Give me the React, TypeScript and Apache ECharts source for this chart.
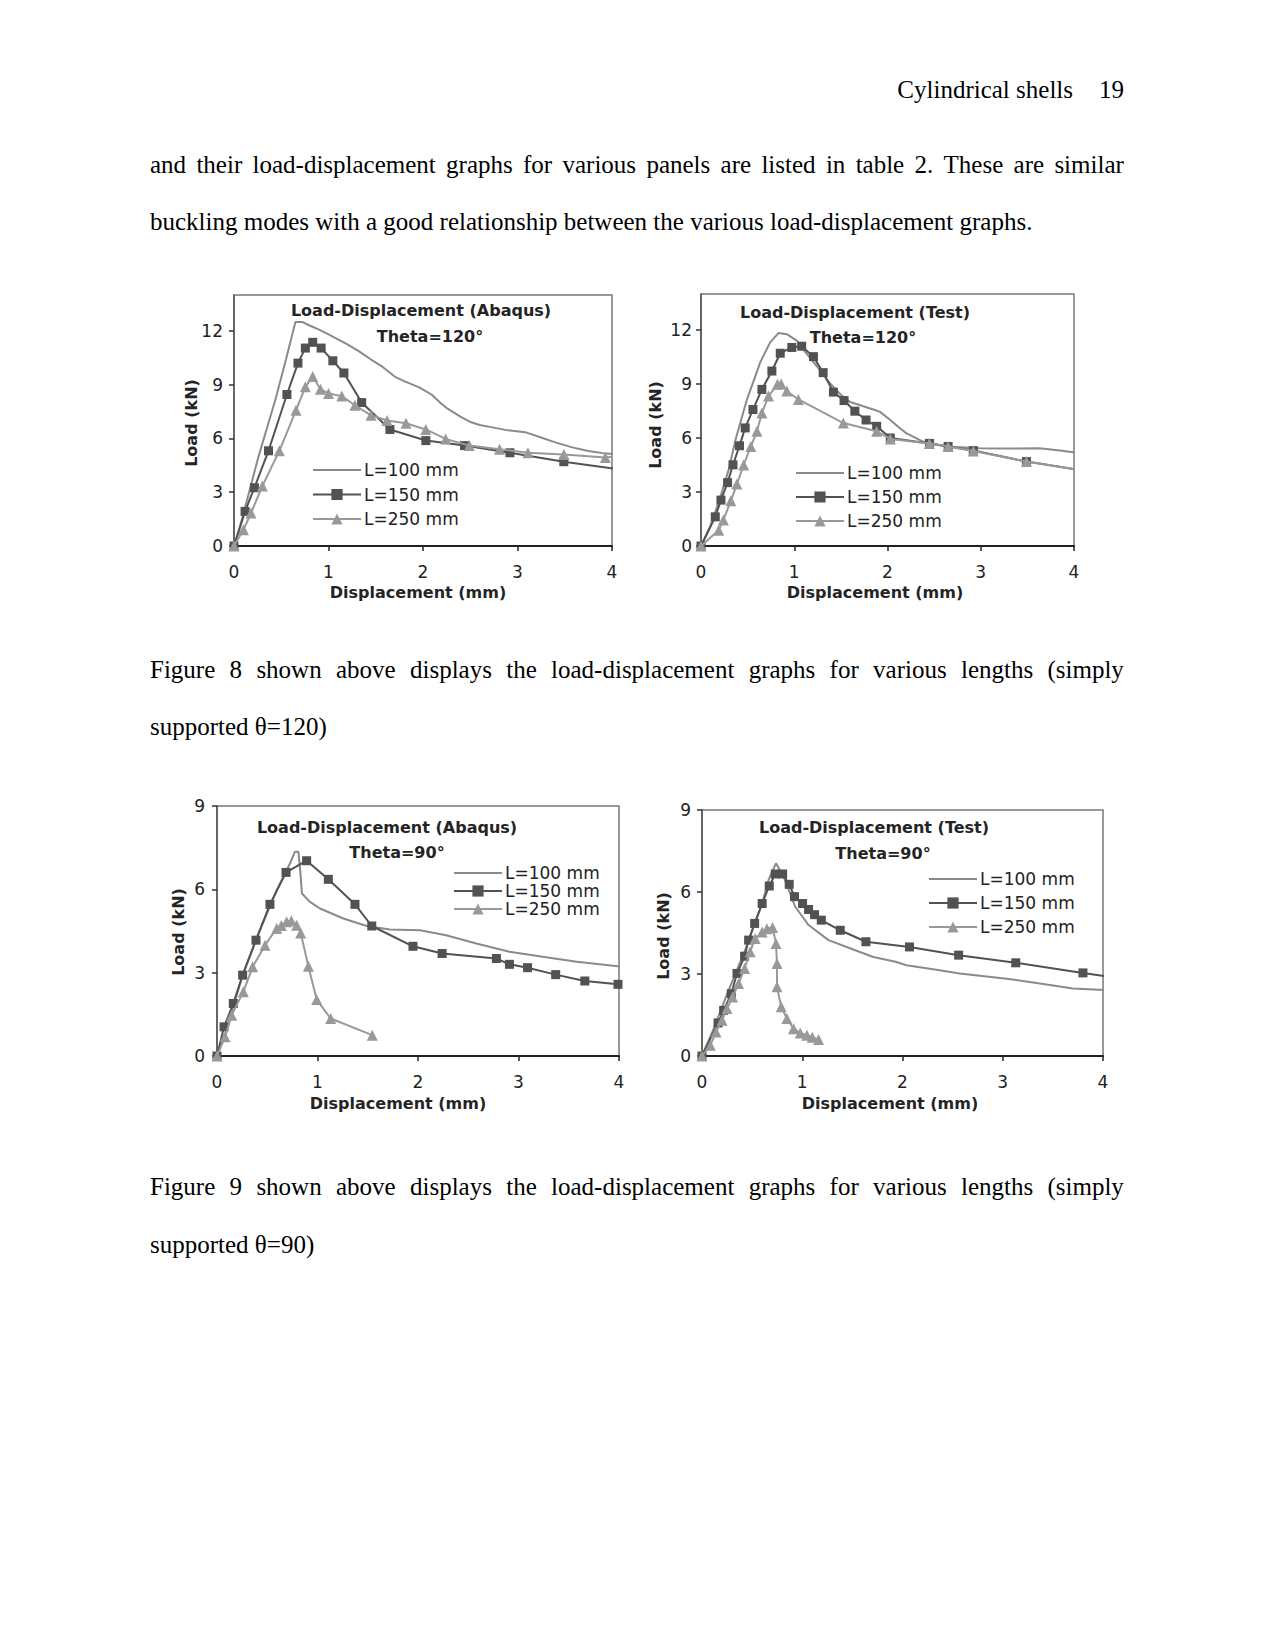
import React, { useEffect, useRef } from "react";
import * as echarts from "echarts";

// ---------- data ----------
const X_TICKS = [0, 1, 2, 3, 4];
const Y_TICKS_120 = [0, 3, 6, 9, 12];
const Y_TICKS_90 = [0, 3, 6, 9];
const SERIES_NAMES = ["L=100 mm", "L=150 mm", "L=250 mm"];

// Figure 8 left: Abaqus, theta = 120
const abaqus120_L100 = [[0,0],[0.064,1.1],[0.15,2.8],[0.26,5.0],[0.35,6.6],[0.44,8.2],[0.55,10.4],[0.65,12.5],[0.72,12.5],[0.8,12.3],[0.9,12.07],[1.0,11.8],[1.11,11.5],[1.2,11.25],[1.32,10.87],[1.45,10.4],[1.57,10.0],[1.7,9.45],[1.8,9.2],[1.96,8.85],[2.09,8.45],[2.18,8.0],[2.26,7.66],[2.4,7.2],[2.51,6.9],[2.6,6.75],[2.72,6.63],[2.9,6.45],[3.08,6.35],[3.25,6.05],[3.4,5.78],[3.58,5.5],[3.75,5.3],[3.9,5.18],[4.07,5.1]];
const abaqus120_L150 = [[0,0],[0.117,1.93],[0.216,3.25],[0.365,5.31],[0.56,8.45],[0.677,10.2],[0.755,11.04],[0.833,11.36],[0.922,11.04],[1.046,10.33],[1.163,9.65],[1.351,8.0],[1.65,6.5],[2.03,5.88],[2.44,5.6],[2.92,5.2],[3.49,4.7],[4.07,4.28]];
const abaqus120_L250 = [[0,0],[0.1,0.9],[0.18,1.84],[0.3,3.34],[0.48,5.31],[0.656,7.57],[0.755,8.88],[0.833,9.45],[0.915,8.75],[1.0,8.5],[1.14,8.36],[1.28,7.85],[1.45,7.29],[1.62,7.0],[1.82,6.85],[2.03,6.5],[2.24,5.97],[2.49,5.6],[2.81,5.4],[3.11,5.2],[3.49,5.1],[3.93,4.94],[4.07,5.0]];

// Figure 8 right: Test, theta = 120
const test120_L100 = [[0,0],[0.1,1.1],[0.2,2.6],[0.3,4.3],[0.37,5.9],[0.49,8.1],[0.56,9.1],[0.635,10.2],[0.74,11.3],[0.83,11.83],[0.92,11.77],[1.03,11.4],[1.1,10.9],[1.24,10.0],[1.38,9.06],[1.5,8.4],[1.6,8.0],[1.74,7.76],[1.84,7.6],[1.92,7.45],[2.03,7.0],[2.12,6.6],[2.2,6.27],[2.38,5.8],[2.63,5.53],[2.99,5.43],[3.3,5.42],[3.63,5.43],[3.85,5.3],[4.07,5.15]];
const test120_L150 = [[0,0],[0.153,1.62],[0.214,2.55],[0.285,3.52],[0.343,4.51],[0.413,5.57],[0.474,6.56],[0.557,7.58],[0.653,8.7],[0.76,9.72],[0.85,10.71],[0.974,11.03],[1.08,11.1],[1.206,10.52],[1.31,9.63],[1.42,8.55],[1.534,8.08],[1.65,7.49],[1.77,7.0],[1.884,6.65],[2.03,6.0],[2.45,5.7],[2.65,5.53],[2.92,5.3],[3.49,4.69],[4.07,4.22]];
const test120_L250 = [[0,0],[0.19,0.88],[0.24,1.44],[0.32,2.51],[0.385,3.44],[0.457,4.5],[0.535,5.53],[0.6,6.37],[0.653,7.39],[0.724,8.33],[0.82,8.98],[0.86,9.0],[0.92,8.61],[1.045,8.14],[1.527,6.83],[1.884,6.37],[2.03,5.95],[2.45,5.7],[2.65,5.53],[2.92,5.28],[3.49,4.69],[4.07,4.22]];

// Figure 9 left: Abaqus, theta = 90
const abaqus90_L100 = [[0,0],[0.1,1.0],[0.26,2.97],[0.4,4.3],[0.594,5.97],[0.726,6.93],[0.775,7.35],[0.81,7.35],[0.83,6.6],[0.845,5.85],[0.925,5.55],[1.025,5.31],[1.257,4.95],[1.49,4.68],[1.72,4.55],[2.02,4.53],[2.28,4.35],[2.58,4.05],[2.91,3.75],[3.24,3.57],[3.58,3.39],[4.07,3.2]];
const abaqus90_L150 = [[0,0],[0.07,1.05],[0.162,1.89],[0.255,2.91],[0.388,4.17],[0.527,5.46],[0.687,6.61],[0.892,7.03],[1.108,6.36],[1.373,5.46],[1.54,4.68],[1.95,3.95],[2.24,3.69],[2.78,3.51],[2.91,3.3],[3.09,3.18],[3.37,2.93],[3.66,2.7],[3.99,2.58]];
const abaqus90_L250 = [[0,0],[0.08,0.69],[0.146,1.47],[0.262,2.31],[0.355,3.21],[0.478,3.99],[0.594,4.59],[0.64,4.7],[0.693,4.83],[0.74,4.87],[0.793,4.71],[0.833,4.43],[0.909,3.23],[0.992,2.03],[1.131,1.35],[1.545,0.75]];

// Figure 9 right: Test, theta = 90
const test90_L100 = [[0,0],[0.1,0.85],[0.265,2.4],[0.43,3.87],[0.6,5.58],[0.664,6.44],[0.738,7.05],[0.814,6.56],[0.93,5.46],[1.063,4.79],[1.262,4.24],[1.528,3.87],[1.71,3.62],[1.93,3.45],[2.04,3.32],[2.37,3.14],[2.57,3.02],[3.04,2.83],[3.37,2.65],[3.7,2.47],[4.07,2.4]];
const test90_L150 = [[0,0],[0.16,1.21],[0.216,1.67],[0.292,2.28],[0.349,3.02],[0.425,3.65],[0.465,4.24],[0.525,4.85],[0.6,5.58],[0.671,6.22],[0.731,6.66],[0.804,6.66],[0.87,6.28],[0.923,5.83],[1.003,5.58],[1.063,5.36],[1.123,5.17],[1.19,4.97],[1.379,4.6],[1.635,4.18],[2.07,3.99],[2.56,3.69],[3.13,3.41],[3.8,3.04],[4.07,2.89]];
const test90_L250 = [[0,0],[0.083,0.39],[0.14,0.88],[0.2,1.31],[0.249,1.74],[0.305,2.16],[0.365,2.65],[0.425,3.2],[0.48,3.81],[0.53,4.3],[0.6,4.54],[0.648,4.66],[0.704,4.7],[0.738,4.12],[0.748,3.38],[0.748,2.53],[0.79,1.8],[0.847,1.37],[0.913,1.0],[0.98,0.84],[1.047,0.76],[1.1,0.69],[1.163,0.6]];

const PANELS = [
  { title: "Load-Displacement (Abaqus)", theta: "Theta=120°", data: [abaqus120_L100, abaqus120_L150, abaqus120_L250], yMax: 14, yTicks: Y_TICKS_120 },
  { title: "Load-Displacement (Test)", theta: "Theta=120°", data: [test120_L100, test120_L150, test120_L250], yMax: 14, yTicks: Y_TICKS_120 },
  { title: "Load-Displacement (Abaqus)", theta: "Theta=90°", data: [abaqus90_L100, abaqus90_L150, abaqus90_L250], yMax: 9, yTicks: Y_TICKS_90 },
  { title: "Load-Displacement (Test)", theta: "Theta=90°", data: [test90_L100, test90_L150, test90_L250], yMax: 9, yTicks: Y_TICKS_90 },
];

// ---------- layout & style ----------
const LAYOUT = [
  { grid: { left: 234, top: 295, width: 378, height: 251 }, title: [421, 310], theta: [430, 336], yName: [191, 423], xName: [418, 592], legend: { left: 312, top: 460, gap: 4.5, lh: 20 }, yMargin: 11 },
  { grid: { left: 701, top: 294, width: 373, height: 252 }, title: [855, 312], theta: [863, 337], yName: [655, 425], xName: [875, 592], legend: { left: 795, top: 463, gap: 4, lh: 20 }, yMargin: 9 },
  { grid: { left: 217, top: 806, width: 402, height: 250 }, title: [387, 827], theta: [397, 852], yName: [178, 932], xName: [398, 1103], legend: { left: 453, top: 864, gap: 0, lh: 18 }, yMargin: 12 },
  { grid: { left: 702, top: 810, width: 401, height: 246 }, title: [874, 827], theta: [883, 853], yName: [663, 936], xName: [890, 1103], legend: { left: 928, top: 869, gap: 4, lh: 20 }, yMargin: 11 },
];

const SERIES_STYLE = [
  { color: "#8a8a8a", symbol: "none", symbolSize: 0 },
  { color: "#525252", symbol: "rect", symbolSize: 9 },
  { color: "#999999", symbol: "triangle", symbolSize: 11 },
];

const TEXT_COLOR = "#242424";
const SANS = '"DejaVu Sans", sans-serif';

function buildOption() {
  const grid: any[] = [];
  const xAxis: any[] = [];
  const yAxis: any[] = [];
  const series: any[] = [];
  const legend: any[] = [];
  const graphic: any[] = [];

  PANELS.forEach((p, i) => {
    const L = LAYOUT[i];
    grid.push({ ...L.grid, show: true, borderColor: "#787878", borderWidth: 1.5, backgroundColor: "transparent" });
    xAxis.push({
      gridIndex: i, type: "value", min: X_TICKS[0], max: X_TICKS[X_TICKS.length - 1], interval: 1,
      axisLine: { show: true, onZero: false, lineStyle: { color: "#222", width: 2 } },
      axisTick: { show: true, length: 5, lineStyle: { color: "#222", width: 1.5 } },
      axisLabel: { margin: 17, fontFamily: SANS, fontSize: 17, color: "#222" },
      splitLine: { show: false },
    });
    yAxis.push({
      gridIndex: i, type: "value", min: 0, max: p.yMax, interval: 3,
      axisLine: { show: true, onZero: false, lineStyle: { color: "#555", width: 1.5 } },
      axisTick: { show: true, length: 5, customValues: p.yTicks, lineStyle: { color: "#333", width: 1.5 } },
      axisLabel: { margin: L.yMargin, fontFamily: SANS, fontSize: 17, color: "#222", customValues: p.yTicks,
        formatter: (v: number) => (p.yTicks.indexOf(v) >= 0 ? String(v) : "") },
      splitLine: { show: false },
    });
    p.data.forEach((d, k) => {
      const s = SERIES_STYLE[k];
      series.push({
        type: "line", name: SERIES_NAMES[k], xAxisIndex: i, yAxisIndex: i, data: d,
        clip: true, symbol: s.symbol, symbolSize: s.symbolSize, showSymbol: s.symbol !== "none",
        lineStyle: { color: s.color, width: 2 }, itemStyle: { color: s.color },
        z: 2 + k,
      });
    });
    legend.push({
      orient: "vertical", left: L.legend.left, top: L.legend.top, itemGap: L.legend.gap,
      itemWidth: 48, itemHeight: 14, padding: 0, selectedMode: false,
      data: [
        { name: SERIES_NAMES[0], icon: "path://M0,0H48V2H0Z", itemStyle: { color: SERIES_STYLE[0].color } },
        SERIES_NAMES[1],
        SERIES_NAMES[2],
      ],
      textStyle: { fontFamily: SANS, fontSize: 17, color: "#222", lineHeight: L.legend.lh, padding: [0, 0, 0, -2] },
    });
    const txt = (x: number, y: number, text: string, rot = 0) => ({
      type: "text", x, y, rotation: rot,
      style: { text, font: `bold 16px ${SANS}`, fill: TEXT_COLOR, align: "center", verticalAlign: "middle" },
    });
    graphic.push(txt(L.title[0], L.title[1], p.title));
    graphic.push(txt(L.theta[0], L.theta[1], p.theta));
    graphic.push(txt(L.yName[0], L.yName[1], "Load (kN)", Math.PI / 2));
    graphic.push(txt(L.xName[0], L.xName[1], "Displacement (mm)"));
  });

  return { animation: false, backgroundColor: "transparent", grid, xAxis, yAxis, series, legend, graphic };
}

const SERIF = '"Liberation Serif", "Times New Roman", serif';

function Justified({ top, text }: { top: number; text: string }) {
  const words = text.split(" ");
  return (
    <div style={{ position: "absolute", left: 150, top, width: 974, display: "flex", justifyContent: "space-between", font: `25px ${SERIF}`, lineHeight: "25px", color: "#000", whiteSpace: "nowrap" }}>
      {words.map((w, i) => <span key={i}>{w}</span>)}
    </div>
  );
}

function Plain({ top, text }: { top: number; text: string }) {
  return (
    <div style={{ position: "absolute", left: 150, top, font: `25px ${SERIF}`, lineHeight: "25px", color: "#000", whiteSpace: "nowrap" }}>{text}</div>
  );
}

export default function App() {
  const ref = useRef<HTMLDivElement>(null);
  useEffect(() => {
    if (!ref.current) return;
    const chart = echarts.init(ref.current, null, { renderer: "svg" });
    chart.setOption(buildOption());
    return () => chart.dispose();
  }, []);
  return (
    <div style={{ position: "absolute", left: 0, top: 0, width: 1275, height: 1650, background: "#fff", overflow: "hidden" }}>
      <div ref={ref} style={{ position: "absolute", left: 0, top: 0, width: 1275, height: 1650 }} />
      <div style={{ position: "absolute", left: 0, top: 77, width: 1124, textAlign: "right", font: `25px ${SERIF}`, lineHeight: "25px", color: "#000", whiteSpace: "nowrap" }}>
        <span>Cylindrical shells</span><span style={{ display: "inline-block", marginLeft: 26 }}>19</span>
      </div>
      <Justified top={152} text="and their load-displacement graphs for various panels are listed in table 2. These are similar" />
      <Plain top={209} text="buckling modes with a good relationship between the various load-displacement graphs." />
      <Justified top={657} text="Figure 8 shown above displays the load-displacement graphs for various lengths (simply" />
      <Plain top={714} text="supported θ=120)" />
      <Justified top={1174} text="Figure 9 shown above displays the load-displacement graphs for various lengths (simply" />
      <Plain top={1232} text="supported θ=90)" />
    </div>
  );
}
